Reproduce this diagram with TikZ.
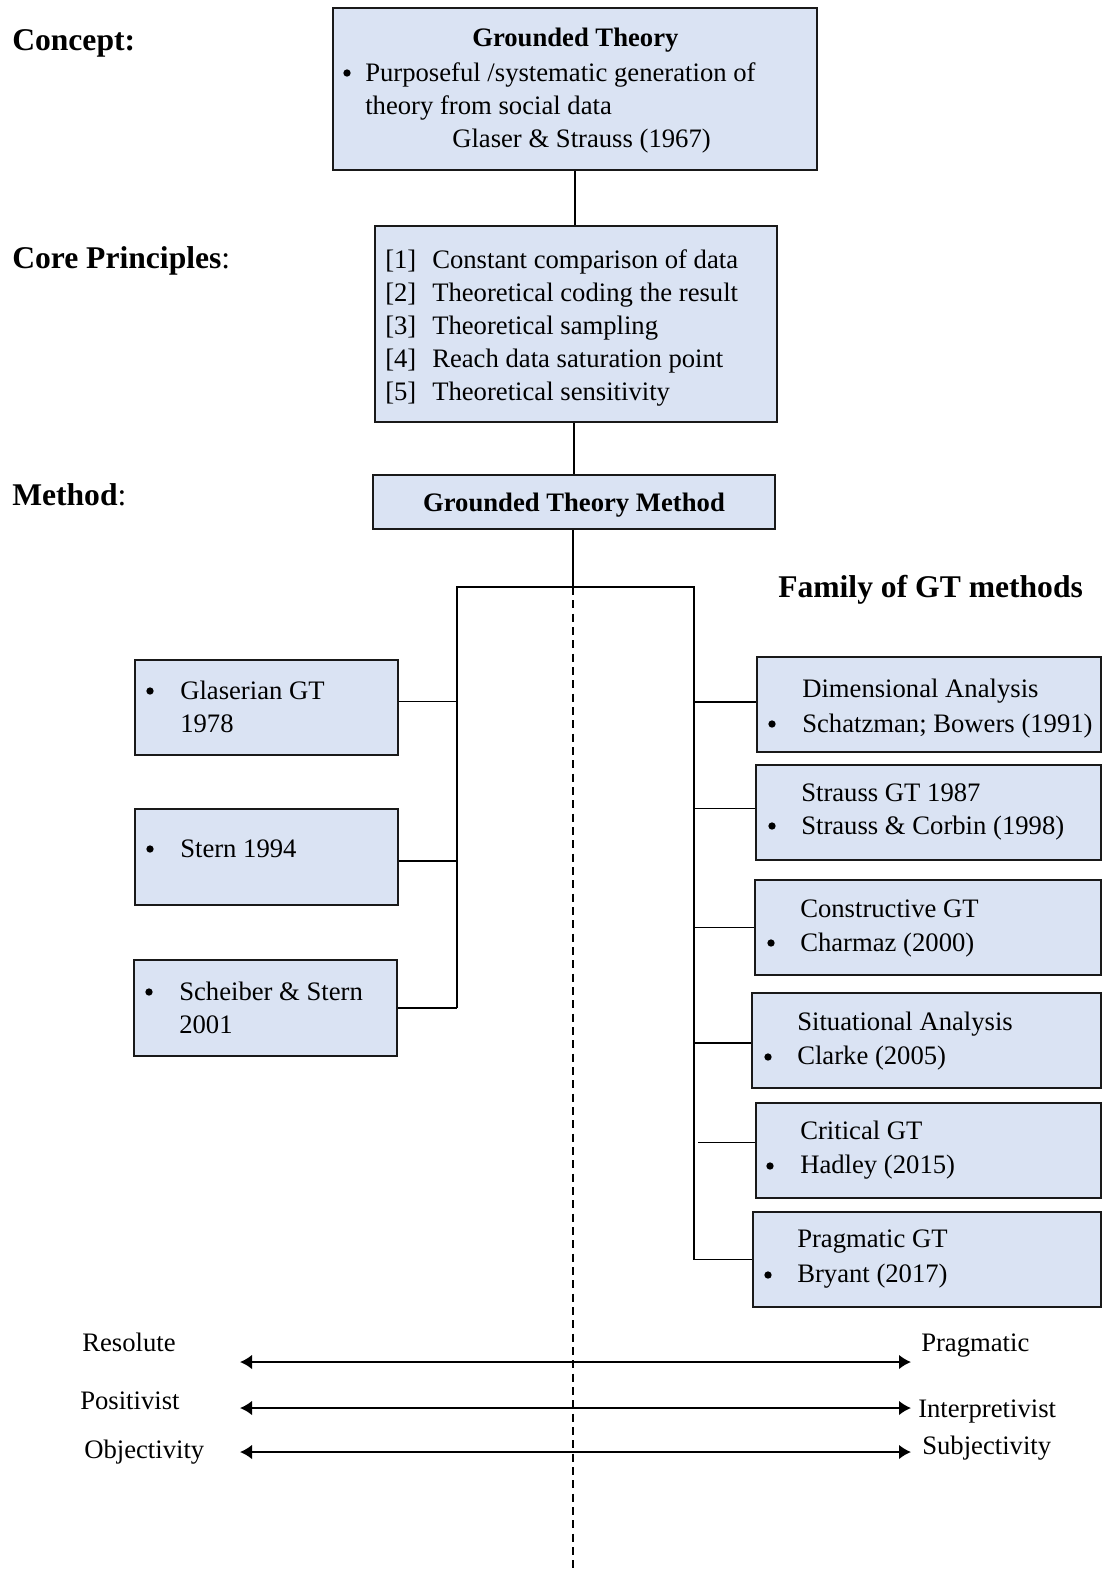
\documentclass[tikz,border=0pt]{standalone}
\usepackage{fontspec}
\setmainfont{Liberation Serif}
\usetikzlibrary{fit,arrows.meta}
\definecolor{boxfill}{HTML}{DAE3F3}
\begin{document}
\begin{tikzpicture}[x=0.75pt,y=-0.75pt,
  box/.style={draw=black!90, line width=1.6pt, fill=boxfill, inner sep=0pt},
  txt/.style={anchor=base west, inner sep=0pt, font=\fontsize{20}{24}\selectfont},
  btxt/.style={anchor=base west, inner sep=0pt, font=\fontsize{20}{24}\selectfont\bfseries},
  head/.style={anchor=base west, inner sep=0pt, font=\fontsize{23.7}{28}\selectfont},
  dot/.style={circle, fill=black, inner sep=0pt, minimum size=5.5pt},
  conn/.style={line width=1.2pt},
  dashline/.style={line width=0.9pt, dash pattern=on 6pt off 4pt},
  arr/.style={line width=1.5pt, {Latex[length=9pt,width=11pt]}-{Latex[length=9pt,width=11pt]}}]
\useasboundingbox (0,0) rectangle (1103,1571);

% headings
\node[head] (hconcept) at (12,50) {\textbf{Concept:}};
\node[head] (hcore) at (12,268) {\textbf{Core Principles}:};
\node[head] (hmethod) at (12,505) {\textbf{Method}:};
\node[head] (hfamily) at (778,597) {\textbf{Family of GT methods}};

% boxes
\node[box, fit={(333,8)(817,170)}] (concept) {};
\node[box, fit={(375,226)(777,422)}] (core) {};
\node[box, fit={(373,475)(775,529)}] (gtm) {};

\node[box, fit={(135,660)(398,755)}] (glas) {};
\node[box, fit={(135,809)(398,905)}] (stern) {};
\node[box, fit={(134,960)(397,1056)}] (schei) {};

\node[box, fit={(757,657)(1101,752)}] (dim) {};
\node[box, fit={(756,765)(1101,860)}] (strauss) {};
\node[box, fit={(755,880)(1101,975)}] (constr) {};
\node[box, fit={(752,993)(1101,1088)}] (situ) {};
\node[box, fit={(756,1103)(1101,1198)}] (crit) {};
\node[box, fit={(753,1212)(1101,1307)}] (prag) {};

% concept text
\node[btxt] (ct1) at (472,46) {Grounded Theory};
\node[dot] (cb1) at (347,73) {};
\node[txt] (ct2) at (365,81) {Purposeful /systematic generation of};
\node[txt] (ct3) at (365,114) {theory from social data};
\node[txt] (ct4) at (452,147) {Glaser \& Strauss (1967)};

% core text
\node[txt] (n1) at (385,268) {[1]};
\node[txt] (p1) at (432,268) {Constant comparison of data};
\node[txt] (n2) at (385,301) {[2]};
\node[txt] (p2) at (432,301) {Theoretical coding the result};
\node[txt] (n3) at (385,334) {[3]};
\node[txt] (p3) at (432,334) {Theoretical sampling};
\node[txt] (n4) at (385,367) {[4]};
\node[txt] (p4) at (432,367) {Reach data saturation point};
\node[txt] (n5) at (385,400) {[5]};
\node[txt] (p5) at (432,400) {Theoretical sensitivity};

% method text
\node[btxt, anchor=base] (mt) at (574,511) {Grounded Theory Method};

% left boxes text
\node[dot] (lb1) at (150,691) {};
\node[txt] (lt1) at (180,699) {Glaserian GT};
\node[txt] (lt1b) at (180,732) {1978};
\node[dot] (lb2) at (150,849) {};
\node[txt] (lt2) at (180,857) {Stern 1994};
\node[dot] (lb3) at (149,992) {};
\node[txt] (lt3) at (179,1000) {Scheiber \& Stern};
\node[txt] (lt3b) at (179,1033) {2001};

% right boxes text
\node[txt] (rt1) at (802,697) {Dimensional Analysis};
\node[dot] (rb1) at (772,724) {};
\node[txt] (rt1b) at (802,732) {Schatzman; Bowers (1991)};
\node[txt] (rt2) at (801,801) {Strauss GT 1987};
\node[dot] (rb2) at (772,826) {};
\node[txt] (rt2b) at (801,834) {Strauss \& Corbin (1998)};
\node[txt] (rt3) at (800,917) {Constructive GT};
\node[dot] (rb3) at (771,943) {};
\node[txt] (rt3b) at (800,951) {Charmaz (2000)};
\node[txt] (rt4) at (797,1030) {Situational Analysis};
\node[dot] (rb4) at (768,1057) {};
\node[txt] (rt4b) at (797,1064) {Clarke (2005)};
\node[txt] (rt5) at (800,1139) {Critical GT};
\node[dot] (rb5) at (770,1166) {};
\node[txt] (rt5b) at (800,1173) {Hadley (2015)};
\node[txt] (rt6) at (797,1247) {Pragmatic GT};
\node[dot] (rb6) at (768,1275) {};
\node[txt] (rt6b) at (797,1282) {Bryant (2017)};

% connectors
\draw[conn] (concept.south) -- (concept.south |- core.north);
\coordinate (j) at (573,587);
\coordinate (lv) at (457,587);
\coordinate (rv) at (694,587);
\draw[conn] (core.south -| gtm.north) -- (gtm.north);
\draw[conn] (gtm.south -| j) -- (j);
\draw[conn] (lv |- schei.east) -- (lv) -- (rv) -- (rv |- prag.west);
\draw[conn] ([yshift=4.5pt]glas.east) -- ([yshift=4.5pt]glas.east -| lv);
\draw[conn] ([yshift=-3pt]stern.east) -- ([yshift=-3pt]stern.east -| lv);
\draw[conn] (schei.east) -- (schei.east -| lv);
\draw[conn] ([yshift=2pt]dim.west) -- ([yshift=2pt]dim.west -| rv);
\draw[conn] ([yshift=3pt]strauss.west) -- ([yshift=3pt]strauss.west -| rv);
\draw[conn] (constr.west) -- (constr.west -| rv);
\draw[conn] ([yshift=-2pt]situ.west) -- ([yshift=-2pt]situ.west -| rv);
\draw[conn] ([yshift=6pt]crit.west) -- ++(-57,0);
\draw[conn] (prag.west) -- (prag.west -| rv);

% dashed centre line
\coordinate (dend) at (573,1571);
\draw[dashline] (j) -- (dend);

% bottom scales
\node[txt] (res) at (82,1351) {Resolute};
\node[txt] (pra) at (921,1351) {Pragmatic};
\node[txt] (pos) at (80,1409) {Positivist};
\node[txt] (int) at (918,1417) {Interpretivist};
\node[txt] (obj) at (84,1458) {Objectivity};
\node[txt] (sub) at (922,1454) {Subjectivity};
\coordinate (a1l) at (240,1362); \coordinate (a1r) at (911,1362);
\coordinate (a2l) at (240,1408); \coordinate (a2r) at (911,1408);
\coordinate (a3l) at (240,1452); \coordinate (a3r) at (911,1452);
\draw[arr] (a1l) -- (a1r);
\draw[arr] (a2l) -- (a2r);
\draw[arr] (a3l) -- (a3r);
\end{tikzpicture}
\end{document}
